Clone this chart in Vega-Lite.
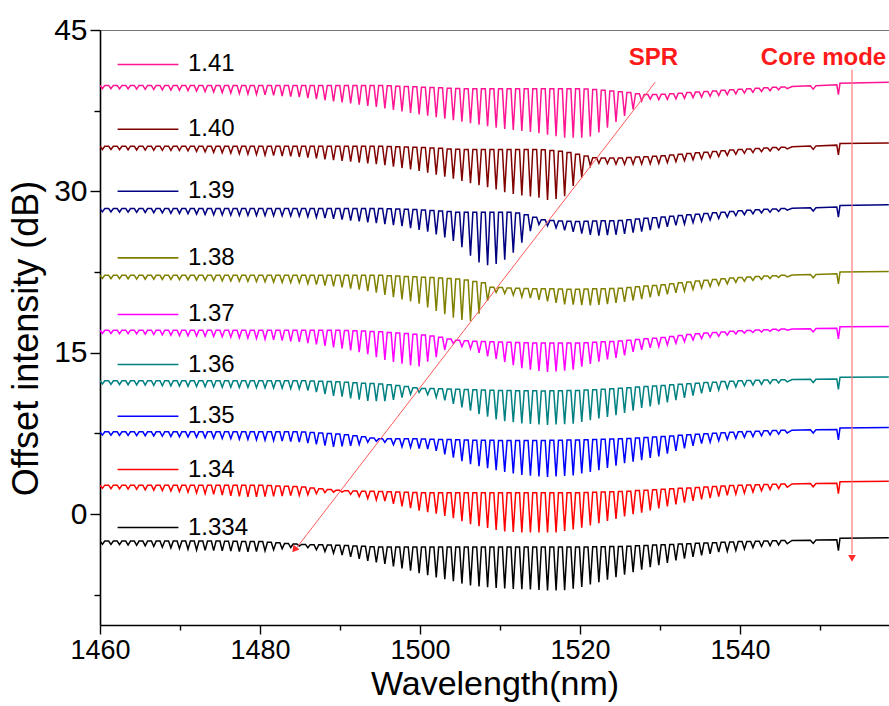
{
  "$schema": "https://vega.github.io/schema/vega-lite/v6.json",
  "width": 789,
  "height": 595,
  "autosize": {"type": "none"},
  "padding": {"left": 100, "top": 30, "right": 0, "bottom": 81},
  "background": "white",
  "config": {
    "view": {"stroke": null},
    "axis": {"labelFont": "Liberation Sans", "titleFont": "Liberation Sans", "labelColor": "black", "titleColor": "black", "domainColor": "black", "tickColor": "black", "domainWidth": 1.6, "tickWidth": 1.4, "grid": false, "titleFontWeight": "normal"}
  },
  "resolve": {"axis": {"x": "independent", "y": "independent"}},
  "datasets": {
    "spec": [
      {"x":1460.0,"p":39.85,"w":34.2,"n":28.4,"o":22.2,"m":17.1,"c":12.4,"b":7.65,"r":2.7,"k":-2.5},
      {"x":1460.3,"p":39.55,"w":33.9,"n":28.1,"o":21.9,"m":16.8,"c":12.1,"b":7.35,"r":2.4,"k":-2.8},
      {"x":1460.6,"p":39.85,"w":34.2,"n":28.4,"o":22.2,"m":17.1,"c":12.4,"b":7.65,"r":2.7,"k":-2.5},
      {"x":1461.08,"p":39.85,"w":34.2,"n":28.4,"o":22.2,"m":17.1,"c":12.4,"b":7.65,"r":2.7,"k":-2.5},
      {"x":1461.37,"p":39.54,"w":33.89,"n":28.09,"o":21.89,"m":16.79,"c":12.07,"b":7.34,"r":2.37,"k":-2.82},
      {"x":1461.67,"p":39.85,"w":34.2,"n":28.4,"o":22.2,"m":17.1,"c":12.4,"b":7.65,"r":2.7,"k":-2.5},
      {"x":1462.15,"p":39.85,"w":34.2,"n":28.4,"o":22.2,"m":17.1,"c":12.4,"b":7.65,"r":2.7,"k":-2.5},
      {"x":1462.44,"p":39.53,"w":33.88,"n":28.08,"o":21.88,"m":16.78,"c":12.05,"b":7.33,"r":2.35,"k":-2.84},
      {"x":1462.74,"p":39.85,"w":34.2,"n":28.4,"o":22.2,"m":17.1,"c":12.4,"b":7.65,"r":2.7,"k":-2.5},
      {"x":1463.22,"p":39.85,"w":34.2,"n":28.4,"o":22.2,"m":17.1,"c":12.4,"b":7.65,"r":2.7,"k":-2.5},
      {"x":1463.51,"p":39.52,"w":33.86,"n":28.07,"o":21.87,"m":16.77,"c":12.03,"b":7.32,"r":2.33,"k":-2.87},
      {"x":1463.81,"p":39.85,"w":34.2,"n":28.4,"o":22.2,"m":17.1,"c":12.4,"b":7.65,"r":2.7,"k":-2.5},
      {"x":1464.29,"p":39.85,"w":34.2,"n":28.4,"o":22.2,"m":17.1,"c":12.4,"b":7.65,"r":2.7,"k":-2.5},
      {"x":1464.58,"p":39.5,"w":33.85,"n":28.05,"o":21.85,"m":16.75,"c":12.01,"b":7.3,"r":2.31,"k":-2.89},
      {"x":1464.88,"p":39.85,"w":34.2,"n":28.4,"o":22.2,"m":17.1,"c":12.4,"b":7.65,"r":2.7,"k":-2.5},
      {"x":1465.36,"p":39.85,"w":34.2,"n":28.4,"o":22.2,"m":17.1,"c":12.4,"b":7.65,"r":2.7,"k":-2.5},
      {"x":1465.65,"p":39.49,"w":33.84,"n":28.04,"o":21.84,"m":16.73,"c":11.99,"b":7.29,"r":2.27,"k":-2.94},
      {"x":1465.95,"p":39.85,"w":34.2,"n":28.4,"o":22.2,"m":17.1,"c":12.4,"b":7.65,"r":2.7,"k":-2.5},
      {"x":1466.43,"p":39.85,"w":34.2,"n":28.4,"o":22.2,"m":17.1,"c":12.4,"b":7.65,"r":2.7,"k":-2.5},
      {"x":1466.72,"p":39.47,"w":33.83,"n":28.02,"o":21.83,"m":16.7,"c":11.97,"b":7.27,"r":2.23,"k":-3.0},
      {"x":1467.02,"p":39.85,"w":34.2,"n":28.4,"o":22.2,"m":17.1,"c":12.4,"b":7.65,"r":2.7,"k":-2.5},
      {"x":1467.5,"p":39.85,"w":34.2,"n":28.4,"o":22.2,"m":17.1,"c":12.4,"b":7.65,"r":2.7,"k":-2.5},
      {"x":1467.79,"p":39.44,"w":33.82,"n":28.0,"o":21.82,"m":16.67,"c":11.94,"b":7.24,"r":2.19,"k":-3.07},
      {"x":1468.09,"p":39.85,"w":34.2,"n":28.4,"o":22.2,"m":17.1,"c":12.4,"b":7.65,"r":2.7,"k":-2.5},
      {"x":1468.57,"p":39.85,"w":34.2,"n":28.4,"o":22.2,"m":17.1,"c":12.4,"b":7.65,"r":2.7,"k":-2.5},
      {"x":1468.86,"p":39.42,"w":33.81,"n":27.97,"o":21.81,"m":16.63,"c":11.92,"b":7.22,"r":2.15,"k":-3.13},
      {"x":1469.16,"p":39.85,"w":34.2,"n":28.4,"o":22.2,"m":17.1,"c":12.4,"b":7.65,"r":2.7,"k":-2.5},
      {"x":1469.64,"p":39.85,"w":34.2,"n":28.4,"o":22.2,"m":17.1,"c":12.4,"b":7.65,"r":2.7,"k":-2.5},
      {"x":1469.93,"p":39.4,"w":33.8,"n":27.95,"o":21.8,"m":16.6,"c":11.9,"b":7.2,"r":2.1,"k":-3.2},
      {"x":1470.23,"p":39.85,"w":34.2,"n":28.4,"o":22.2,"m":17.1,"c":12.4,"b":7.65,"r":2.7,"k":-2.5},
      {"x":1470.71,"p":39.85,"w":34.2,"n":28.4,"o":22.2,"m":17.1,"c":12.4,"b":7.65,"r":2.7,"k":-2.5},
      {"x":1471.0,"p":39.36,"w":33.76,"n":27.92,"o":21.78,"m":16.58,"c":11.88,"b":7.17,"r":2.04,"k":-3.26},
      {"x":1471.3,"p":39.85,"w":34.2,"n":28.4,"o":22.2,"m":17.1,"c":12.4,"b":7.65,"r":2.7,"k":-2.5},
      {"x":1471.78,"p":39.85,"w":34.2,"n":28.4,"o":22.2,"m":17.1,"c":12.4,"b":7.65,"r":2.7,"k":-2.5},
      {"x":1472.07,"p":39.32,"w":33.72,"n":27.89,"o":21.76,"m":16.56,"c":11.86,"b":7.14,"r":1.98,"k":-3.33},
      {"x":1472.37,"p":39.85,"w":34.2,"n":28.4,"o":22.2,"m":17.1,"c":12.4,"b":7.65,"r":2.7,"k":-2.5},
      {"x":1472.85,"p":39.85,"w":34.2,"n":28.4,"o":22.2,"m":17.1,"c":12.4,"b":7.65,"r":2.7,"k":-2.5},
      {"x":1473.14,"p":39.27,"w":33.67,"n":27.86,"o":21.74,"m":16.54,"c":11.84,"b":7.11,"r":1.91,"k":-3.36},
      {"x":1473.44,"p":39.85,"w":34.2,"n":28.4,"o":22.2,"m":17.1,"c":12.4,"b":7.65,"r":2.7,"k":-2.5},
      {"x":1473.92,"p":39.85,"w":34.2,"n":28.4,"o":22.2,"m":17.1,"c":12.4,"b":7.65,"r":2.7,"k":-2.5},
      {"x":1474.21,"p":39.23,"w":33.63,"n":27.82,"o":21.72,"m":16.52,"c":11.82,"b":7.07,"r":1.85,"k":-3.39},
      {"x":1474.51,"p":39.85,"w":34.2,"n":28.4,"o":22.2,"m":17.1,"c":12.4,"b":7.65,"r":2.7,"k":-2.5},
      {"x":1474.99,"p":39.85,"w":34.2,"n":28.4,"o":22.2,"m":17.1,"c":12.4,"b":7.65,"r":2.7,"k":-2.5},
      {"x":1475.28,"p":39.19,"w":33.59,"n":27.8,"o":21.69,"m":16.49,"c":11.8,"b":7.04,"r":1.78,"k":-3.41},
      {"x":1475.58,"p":39.85,"w":34.2,"n":28.4,"o":22.2,"m":17.1,"c":12.4,"b":7.65,"r":2.7,"k":-2.51},
      {"x":1476.06,"p":39.85,"w":34.2,"n":28.4,"o":22.2,"m":17.1,"c":12.4,"b":7.65,"r":2.7,"k":-2.51},
      {"x":1476.35,"p":39.15,"w":33.55,"n":27.79,"o":21.67,"m":16.45,"c":11.79,"b":7.01,"r":1.71,"k":-3.44},
      {"x":1476.65,"p":39.85,"w":34.2,"n":28.4,"o":22.2,"m":17.1,"c":12.4,"b":7.65,"r":2.7,"k":-2.52},
      {"x":1477.13,"p":39.85,"w":34.2,"n":28.4,"o":22.2,"m":17.1,"c":12.4,"b":7.65,"r":2.7,"k":-2.52},
      {"x":1477.42,"p":39.1,"w":33.5,"n":27.77,"o":21.65,"m":16.4,"c":11.78,"b":6.97,"r":1.65,"k":-3.47},
      {"x":1477.72,"p":39.85,"w":34.2,"n":28.4,"o":22.2,"m":17.1,"c":12.4,"b":7.65,"r":2.7,"k":-2.53},
      {"x":1478.2,"p":39.85,"w":34.2,"n":28.4,"o":22.2,"m":17.1,"c":12.4,"b":7.65,"r":2.7,"k":-2.53},
      {"x":1478.49,"p":39.06,"w":33.46,"n":27.76,"o":21.63,"m":16.36,"c":11.77,"b":6.94,"r":1.6,"k":-3.5},
      {"x":1478.79,"p":39.85,"w":34.2,"n":28.4,"o":22.2,"m":17.1,"c":12.4,"b":7.65,"r":2.7,"k":-2.54},
      {"x":1479.27,"p":39.85,"w":34.2,"n":28.4,"o":22.2,"m":17.1,"c":12.4,"b":7.65,"r":2.7,"k":-2.54},
      {"x":1479.56,"p":39.02,"w":33.42,"n":27.75,"o":21.61,"m":16.32,"c":11.75,"b":6.91,"r":1.62,"k":-3.47},
      {"x":1479.86,"p":39.85,"w":34.2,"n":28.4,"o":22.2,"m":17.1,"c":12.4,"b":7.65,"r":2.7,"k":-2.55},
      {"x":1480.34,"p":39.85,"w":34.2,"n":28.4,"o":22.2,"m":17.1,"c":12.4,"b":7.65,"r":2.7,"k":-2.55},
      {"x":1480.63,"p":38.97,"w":33.37,"n":27.74,"o":21.59,"m":16.26,"c":11.74,"b":6.87,"r":1.64,"k":-3.41},
      {"x":1480.93,"p":39.85,"w":34.2,"n":28.4,"o":22.2,"m":17.1,"c":12.4,"b":7.65,"r":2.67,"k":-2.61},
      {"x":1481.41,"p":39.85,"w":34.2,"n":28.4,"o":22.2,"m":17.1,"c":12.4,"b":7.65,"r":2.67,"k":-2.61},
      {"x":1481.7,"p":38.92,"w":33.33,"n":27.73,"o":21.57,"m":16.2,"c":11.72,"b":6.83,"r":1.66,"k":-3.32},
      {"x":1482.0,"p":39.85,"w":34.2,"n":28.4,"o":22.2,"m":17.1,"c":12.4,"b":7.65,"r":2.63,"k":-2.66},
      {"x":1482.48,"p":39.85,"w":34.2,"n":28.4,"o":22.2,"m":17.1,"c":12.4,"b":7.65,"r":2.63,"k":-2.66},
      {"x":1482.77,"p":38.86,"w":33.29,"n":27.72,"o":21.54,"m":16.13,"c":11.7,"b":6.79,"r":1.69,"k":-3.22},
      {"x":1483.07,"p":39.85,"w":34.2,"n":28.4,"o":22.2,"m":17.1,"c":12.4,"b":7.65,"r":2.6,"k":-2.72},
      {"x":1483.55,"p":39.85,"w":34.2,"n":28.4,"o":22.2,"m":17.1,"c":12.4,"b":7.65,"r":2.6,"k":-2.72},
      {"x":1483.84,"p":38.81,"w":33.25,"n":27.71,"o":21.52,"m":16.07,"c":11.67,"b":6.75,"r":1.72,"k":-3.1},
      {"x":1484.14,"p":39.85,"w":34.2,"n":28.4,"o":22.2,"m":17.1,"c":12.4,"b":7.65,"r":2.57,"k":-2.77},
      {"x":1484.62,"p":39.85,"w":34.2,"n":28.4,"o":22.2,"m":17.1,"c":12.4,"b":7.65,"r":2.57,"k":-2.77},
      {"x":1484.91,"p":38.76,"w":33.2,"n":27.7,"o":21.5,"m":16.01,"c":11.65,"b":6.7,"r":1.75,"k":-2.96},
      {"x":1485.21,"p":39.85,"w":34.2,"n":28.4,"o":22.2,"m":17.1,"c":12.39,"b":7.63,"r":2.52,"k":-2.81},
      {"x":1485.69,"p":39.85,"w":34.2,"n":28.4,"o":22.2,"m":17.1,"c":12.39,"b":7.63,"r":2.52,"k":-2.81},
      {"x":1485.98,"p":38.66,"w":33.13,"n":27.64,"o":21.42,"m":15.9,"c":11.5,"b":6.61,"r":1.8,"k":-3.12},
      {"x":1486.28,"p":39.85,"w":34.2,"n":28.4,"o":22.2,"m":17.1,"c":12.37,"b":7.59,"r":2.44,"k":-2.83},
      {"x":1486.76,"p":39.85,"w":34.2,"n":28.4,"o":22.2,"m":17.1,"c":12.37,"b":7.59,"r":2.44,"k":-2.83},
      {"x":1487.05,"p":38.57,"w":33.06,"n":27.58,"o":21.34,"m":15.77,"c":11.34,"b":6.49,"r":1.9,"k":-3.31},
      {"x":1487.35,"p":39.85,"w":34.2,"n":28.4,"o":22.2,"m":17.1,"c":12.35,"b":7.55,"r":2.37,"k":-2.85},
      {"x":1487.83,"p":39.85,"w":34.2,"n":28.4,"o":22.2,"m":17.1,"c":12.35,"b":7.55,"r":2.37,"k":-2.85},
      {"x":1488.12,"p":38.47,"w":32.98,"n":27.51,"o":21.25,"m":15.64,"c":11.17,"b":6.38,"r":2.0,"k":-3.47},
      {"x":1488.42,"p":39.85,"w":34.2,"n":28.4,"o":22.2,"m":17.1,"c":12.33,"b":7.5,"r":2.29,"k":-2.87},
      {"x":1488.9,"p":39.85,"w":34.2,"n":28.4,"o":22.2,"m":17.1,"c":12.33,"b":7.5,"r":2.29,"k":-2.87},
      {"x":1489.19,"p":38.37,"w":32.91,"n":27.45,"o":21.17,"m":15.49,"c":11.0,"b":6.25,"r":2.05,"k":-3.62},
      {"x":1489.49,"p":39.85,"w":34.2,"n":28.4,"o":22.2,"m":17.1,"c":12.31,"b":7.46,"r":2.22,"k":-2.89},
      {"x":1489.97,"p":39.85,"w":34.2,"n":28.4,"o":22.2,"m":17.1,"c":12.31,"b":7.46,"r":2.22,"k":-2.89},
      {"x":1490.26,"p":38.27,"w":32.83,"n":27.38,"o":21.08,"m":15.38,"c":10.93,"b":6.31,"r":2.05,"k":-3.79},
      {"x":1490.56,"p":39.85,"w":34.2,"n":28.4,"o":22.2,"m":17.08,"c":12.27,"b":7.38,"r":2.18,"k":-2.92},
      {"x":1491.04,"p":39.85,"w":34.2,"n":28.4,"o":22.2,"m":17.08,"c":12.27,"b":7.38,"r":2.18,"k":-2.92},
      {"x":1491.33,"p":38.17,"w":32.76,"n":27.29,"o":20.97,"m":15.23,"c":10.76,"b":6.36,"r":1.84,"k":-3.97},
      {"x":1491.63,"p":39.85,"w":34.2,"n":28.4,"o":22.2,"m":17.05,"c":12.22,"b":7.28,"r":2.16,"k":-2.96},
      {"x":1492.11,"p":39.85,"w":34.2,"n":28.4,"o":22.2,"m":17.05,"c":12.22,"b":7.28,"r":2.16,"k":-2.96},
      {"x":1492.4,"p":38.06,"w":32.68,"n":27.21,"o":20.86,"m":15.05,"c":10.64,"b":6.48,"r":1.64,"k":-4.15},
      {"x":1492.7,"p":39.85,"w":34.2,"n":28.4,"o":22.2,"m":17.02,"c":12.18,"b":7.19,"r":2.14,"k":-2.99},
      {"x":1493.18,"p":39.85,"w":34.2,"n":28.4,"o":22.2,"m":17.02,"c":12.18,"b":7.19,"r":2.14,"k":-2.99},
      {"x":1493.47,"p":37.95,"w":32.61,"n":27.12,"o":20.74,"m":14.87,"c":10.52,"b":6.69,"r":1.46,"k":-4.33},
      {"x":1493.77,"p":39.85,"w":34.2,"n":28.4,"o":22.2,"m":16.98,"c":12.14,"b":7.09,"r":2.12,"k":-3.02},
      {"x":1494.25,"p":39.85,"w":34.2,"n":28.4,"o":22.2,"m":16.98,"c":12.14,"b":7.09,"r":2.12,"k":-3.02},
      {"x":1494.54,"p":37.85,"w":32.53,"n":27.04,"o":20.6,"m":14.6,"c":10.5,"b":6.77,"r":1.33,"k":-4.49},
      {"x":1494.84,"p":39.85,"w":34.2,"n":28.4,"o":22.2,"m":16.95,"c":12.1,"b":7.0,"r":2.1,"k":-3.05},
      {"x":1495.32,"p":39.85,"w":34.2,"n":28.4,"o":22.2,"m":16.95,"c":12.1,"b":7.0,"r":2.1,"k":-3.05},
      {"x":1495.61,"p":37.72,"w":32.43,"n":26.95,"o":20.38,"m":14.34,"c":10.5,"b":6.68,"r":1.22,"k":-4.63},
      {"x":1495.91,"p":39.82,"w":34.18,"n":28.38,"o":22.17,"m":16.89,"c":12.02,"b":7.0,"r":2.08,"k":-3.05},
      {"x":1496.39,"p":39.82,"w":34.18,"n":28.38,"o":22.17,"m":16.89,"c":12.02,"b":7.0,"r":2.08,"k":-3.05},
      {"x":1496.68,"p":37.58,"w":32.3,"n":26.87,"o":20.18,"m":14.15,"c":10.63,"b":6.45,"r":0.97,"k":-4.86},
      {"x":1496.98,"p":39.78,"w":34.16,"n":28.36,"o":22.13,"m":16.84,"c":11.95,"b":7.0,"r":2.06,"k":-3.05},
      {"x":1497.46,"p":39.78,"w":34.16,"n":28.36,"o":22.13,"m":16.84,"c":11.95,"b":7.0,"r":2.06,"k":-3.05},
      {"x":1497.75,"p":37.44,"w":32.17,"n":26.76,"o":19.97,"m":13.98,"c":10.83,"b":6.26,"r":0.73,"k":-5.05},
      {"x":1498.05,"p":39.75,"w":34.13,"n":28.33,"o":22.1,"m":16.79,"c":11.87,"b":7.0,"r":2.03,"k":-3.05},
      {"x":1498.53,"p":39.75,"w":34.13,"n":28.33,"o":22.1,"m":16.79,"c":11.87,"b":7.0,"r":2.03,"k":-3.05},
      {"x":1498.82,"p":37.3,"w":32.04,"n":26.59,"o":19.77,"m":13.83,"c":11.14,"b":6.2,"r":0.55,"k":-5.25},
      {"x":1499.12,"p":39.72,"w":34.11,"n":28.31,"o":22.07,"m":16.73,"c":11.76,"b":7.0,"r":2.01,"k":-3.05},
      {"x":1499.6,"p":39.72,"w":34.11,"n":28.31,"o":22.07,"m":16.73,"c":11.76,"b":7.0,"r":2.01,"k":-3.05},
      {"x":1499.89,"p":37.16,"w":31.91,"n":26.42,"o":19.57,"m":13.72,"c":11.32,"b":6.1,"r":0.32,"k":-5.48},
      {"x":1500.19,"p":39.69,"w":34.08,"n":28.28,"o":22.03,"m":16.66,"c":11.69,"b":6.99,"r":2.0,"k":-3.05},
      {"x":1500.67,"p":39.69,"w":34.08,"n":28.28,"o":22.03,"m":16.66,"c":11.69,"b":6.99,"r":2.0,"k":-3.05},
      {"x":1500.96,"p":37.03,"w":31.73,"n":26.26,"o":19.21,"m":14.17,"c":11.1,"b":6.04,"r":0.19,"k":-5.68},
      {"x":1501.26,"p":39.66,"w":34.04,"n":28.22,"o":21.99,"m":16.55,"c":11.67,"b":6.97,"r":2.0,"k":-3.05},
      {"x":1501.74,"p":39.66,"w":34.04,"n":28.22,"o":21.99,"m":16.55,"c":11.67,"b":6.97,"r":2.0,"k":-3.05},
      {"x":1502.03,"p":36.89,"w":31.56,"n":26.0,"o":18.89,"m":14.6,"c":10.85,"b":5.89,"r":0.04,"k":-5.87},
      {"x":1502.33,"p":39.63,"w":34.0,"n":28.17,"o":21.95,"m":16.44,"c":11.65,"b":6.95,"r":2.0,"k":-3.05},
      {"x":1502.81,"p":39.63,"w":34.0,"n":28.17,"o":21.95,"m":16.44,"c":11.65,"b":6.95,"r":2.0,"k":-3.05},
      {"x":1503.1,"p":36.75,"w":31.37,"n":25.72,"o":18.58,"m":15.27,"c":10.58,"b":5.56,"r":-0.17,"k":-6.05},
      {"x":1503.4,"p":39.59,"w":33.95,"n":28.12,"o":21.9,"m":16.27,"c":11.63,"b":6.93,"r":2.0,"k":-3.05},
      {"x":1503.88,"p":39.59,"w":33.95,"n":28.12,"o":21.9,"m":16.27,"c":11.63,"b":6.93,"r":2.0,"k":-3.05},
      {"x":1504.17,"p":36.61,"w":31.18,"n":25.4,"o":18.27,"m":15.85,"c":10.25,"b":5.25,"r":-0.38,"k":-6.24},
      {"x":1504.47,"p":39.56,"w":33.91,"n":28.06,"o":21.86,"m":16.16,"c":11.61,"b":6.91,"r":2.0,"k":-3.05},
      {"x":1504.95,"p":39.56,"w":33.91,"n":28.06,"o":21.86,"m":16.16,"c":11.61,"b":6.91,"r":2.0,"k":-3.05},
      {"x":1505.24,"p":36.47,"w":30.96,"n":24.81,"o":18.05,"m":15.56,"c":9.93,"b":4.93,"r":-0.66,"k":-6.45},
      {"x":1505.54,"p":39.55,"w":33.9,"n":28.05,"o":21.76,"m":16.11,"c":11.58,"b":6.89,"r":2.0,"k":-3.05},
      {"x":1506.02,"p":39.55,"w":33.9,"n":28.05,"o":21.76,"m":16.11,"c":11.58,"b":6.89,"r":2.0,"k":-3.05},
      {"x":1506.31,"p":36.33,"w":30.77,"n":24.03,"o":17.96,"m":15.38,"c":9.62,"b":4.65,"r":-0.93,"k":-6.63},
      {"x":1506.61,"p":39.55,"w":33.9,"n":28.05,"o":21.63,"m":16.08,"c":11.56,"b":6.88,"r":2.0,"k":-3.05},
      {"x":1507.09,"p":39.55,"w":33.9,"n":28.05,"o":21.63,"m":16.08,"c":11.56,"b":6.88,"r":2.0,"k":-3.05},
      {"x":1507.38,"p":36.19,"w":30.58,"n":23.4,"o":18.64,"m":15.0,"c":9.3,"b":4.47,"r":-1.11,"k":-6.71},
      {"x":1507.68,"p":39.55,"w":33.9,"n":28.05,"o":21.51,"m":16.05,"c":11.54,"b":6.87,"r":2.0,"k":-3.05},
      {"x":1508.16,"p":39.55,"w":33.9,"n":28.05,"o":21.51,"m":16.05,"c":11.54,"b":6.87,"r":2.0,"k":-3.05},
      {"x":1508.45,"p":36.05,"w":30.38,"n":23.15,"o":19.83,"m":14.66,"c":9.06,"b":4.27,"r":-1.29,"k":-6.79},
      {"x":1508.75,"p":39.55,"w":33.9,"n":28.05,"o":21.1,"m":16.03,"c":11.52,"b":6.86,"r":2.0,"k":-3.05},
      {"x":1509.23,"p":39.55,"w":33.9,"n":28.05,"o":21.1,"m":16.03,"c":11.52,"b":6.86,"r":2.0,"k":-3.05},
      {"x":1509.52,"p":35.91,"w":30.19,"n":23.25,"o":20.6,"m":14.44,"c":8.81,"b":4.08,"r":-1.47,"k":-6.86},
      {"x":1509.82,"p":39.55,"w":33.9,"n":28.05,"o":21.07,"m":16.0,"c":11.5,"b":6.85,"r":2.0,"k":-3.05},
      {"x":1510.3,"p":39.55,"w":33.9,"n":28.05,"o":21.07,"m":16.0,"c":11.5,"b":6.85,"r":2.0,"k":-3.05},
      {"x":1510.59,"p":35.8,"w":29.92,"n":23.65,"o":20.51,"m":14.14,"c":8.64,"b":3.92,"r":-1.6,"k":-6.91},
      {"x":1510.89,"p":39.55,"w":33.9,"n":28.05,"o":21.03,"m":15.98,"c":11.49,"b":6.85,"r":2.0,"k":-3.05},
      {"x":1511.37,"p":39.55,"w":33.9,"n":28.05,"o":21.03,"m":15.98,"c":11.49,"b":6.85,"r":2.0,"k":-3.05},
      {"x":1511.66,"p":35.7,"w":29.77,"n":24.3,"o":20.35,"m":13.86,"c":8.54,"b":3.78,"r":-1.65,"k":-6.94},
      {"x":1511.96,"p":39.55,"w":33.9,"n":28.0,"o":21.0,"m":15.96,"c":11.48,"b":6.85,"r":2.0,"k":-3.05},
      {"x":1512.44,"p":39.55,"w":33.9,"n":28.0,"o":21.0,"m":15.96,"c":11.48,"b":6.85,"r":2.0,"k":-3.05},
      {"x":1512.73,"p":35.61,"w":29.63,"n":25.23,"o":20.2,"m":13.57,"c":8.43,"b":3.64,"r":-1.69,"k":-6.97},
      {"x":1513.03,"p":39.55,"w":33.9,"n":27.83,"o":20.98,"m":15.94,"c":11.47,"b":6.85,"r":2.0,"k":-3.05},
      {"x":1513.51,"p":39.55,"w":33.9,"n":27.83,"o":20.98,"m":15.94,"c":11.47,"b":6.85,"r":2.0,"k":-3.05},
      {"x":1513.8,"p":35.53,"w":29.52,"n":26.3,"o":20.09,"m":13.43,"c":8.38,"b":3.57,"r":-1.7,"k":-7.0},
      {"x":1514.1,"p":39.55,"w":33.9,"n":27.6,"o":20.96,"m":15.92,"c":11.46,"b":6.85,"r":2.0,"k":-3.05},
      {"x":1514.58,"p":39.55,"w":33.9,"n":27.6,"o":20.96,"m":15.92,"c":11.46,"b":6.85,"r":2.0,"k":-3.05},
      {"x":1514.87,"p":35.41,"w":29.41,"n":26.93,"o":19.92,"m":13.31,"c":8.33,"b":3.51,"r":-1.7,"k":-7.04},
      {"x":1515.17,"p":39.55,"w":33.87,"n":27.37,"o":20.95,"m":15.9,"c":11.45,"b":6.85,"r":2.0,"k":-3.05},
      {"x":1515.65,"p":39.55,"w":33.87,"n":27.37,"o":20.95,"m":15.9,"c":11.45,"b":6.85,"r":2.0,"k":-3.05},
      {"x":1515.94,"p":35.27,"w":29.21,"n":26.81,"o":19.77,"m":13.21,"c":8.3,"b":3.45,"r":-1.7,"k":-7.08},
      {"x":1516.24,"p":39.55,"w":33.8,"n":27.29,"o":20.94,"m":15.9,"c":11.46,"b":6.86,"r":2.0,"k":-3.05},
      {"x":1516.72,"p":39.55,"w":33.8,"n":27.29,"o":20.94,"m":15.9,"c":11.46,"b":6.86,"r":2.0,"k":-3.05},
      {"x":1517.01,"p":35.13,"w":29.3,"n":26.6,"o":19.63,"m":13.27,"c":8.33,"b":3.5,"r":-1.7,"k":-7.1},
      {"x":1517.31,"p":39.55,"w":33.73,"n":27.24,"o":20.93,"m":15.9,"c":11.47,"b":6.87,"r":2.0,"k":-3.05},
      {"x":1517.79,"p":39.55,"w":33.73,"n":27.24,"o":20.93,"m":15.9,"c":11.47,"b":6.87,"r":2.0,"k":-3.05},
      {"x":1518.08,"p":35.0,"w":29.55,"n":26.38,"o":19.5,"m":13.33,"c":8.36,"b":3.55,"r":-1.57,"k":-7.07},
      {"x":1518.38,"p":39.55,"w":33.61,"n":27.22,"o":20.91,"m":15.9,"c":11.49,"b":6.89,"r":2.0,"k":-3.05},
      {"x":1518.86,"p":39.55,"w":33.61,"n":27.22,"o":20.91,"m":15.9,"c":11.49,"b":6.89,"r":2.0,"k":-3.05},
      {"x":1519.15,"p":35.0,"w":30.5,"n":26.23,"o":19.47,"m":13.42,"c":8.41,"b":3.61,"r":-1.43,"k":-6.93},
      {"x":1519.45,"p":39.55,"w":33.45,"n":27.2,"o":20.9,"m":15.9,"c":11.5,"b":6.9,"r":2.0,"k":-3.05},
      {"x":1519.93,"p":39.55,"w":33.45,"n":27.2,"o":20.9,"m":15.9,"c":11.5,"b":6.9,"r":2.0,"k":-3.05},
      {"x":1520.22,"p":35.0,"w":31.3,"n":26.08,"o":19.42,"m":13.72,"c":8.58,"b":3.78,"r":-1.26,"k":-6.76},
      {"x":1520.52,"p":39.51,"w":33.29,"n":27.22,"o":20.92,"m":15.93,"c":11.53,"b":6.92,"r":2.02,"k":-3.04},
      {"x":1521.0,"p":39.51,"w":33.29,"n":27.22,"o":20.92,"m":15.93,"c":11.53,"b":6.92,"r":2.02,"k":-3.04},
      {"x":1521.29,"p":35.1,"w":32.4,"n":25.97,"o":19.4,"m":13.97,"c":8.73,"b":3.93,"r":-1.04,"k":-6.54},
      {"x":1521.59,"p":39.46,"w":33.12,"n":27.24,"o":20.94,"m":15.97,"c":11.57,"b":6.94,"r":2.04,"k":-3.03},
      {"x":1522.07,"p":39.46,"w":33.12,"n":27.24,"o":20.94,"m":15.97,"c":11.57,"b":6.94,"r":2.04,"k":-3.03},
      {"x":1522.36,"p":35.47,"w":32.6,"n":25.9,"o":19.45,"m":14.18,"c":8.89,"b":4.08,"r":-0.83,"k":-6.33},
      {"x":1522.66,"p":39.41,"w":33.1,"n":27.26,"o":20.96,"m":16.02,"c":11.62,"b":6.96,"r":2.06,"k":-3.02},
      {"x":1523.14,"p":39.41,"w":33.1,"n":27.26,"o":20.96,"m":16.02,"c":11.62,"b":6.96,"r":2.06,"k":-3.02},
      {"x":1523.43,"p":35.92,"w":32.58,"n":25.93,"o":19.53,"m":14.39,"c":9.04,"b":4.29,"r":-0.64,"k":-6.1},
      {"x":1523.73,"p":39.34,"w":33.1,"n":27.28,"o":20.98,"m":16.06,"c":11.66,"b":6.98,"r":2.08,"k":-3.01},
      {"x":1524.21,"p":39.34,"w":33.1,"n":27.28,"o":20.98,"m":16.06,"c":11.66,"b":6.98,"r":2.08,"k":-3.01},
      {"x":1524.5,"p":36.45,"w":32.53,"n":25.97,"o":19.63,"m":14.52,"c":9.2,"b":4.5,"r":-0.44,"k":-5.86},
      {"x":1524.8,"p":39.27,"w":33.1,"n":27.3,"o":21.0,"m":16.1,"c":11.7,"b":7.0,"r":2.1,"k":-3.0},
      {"x":1525.28,"p":39.27,"w":33.1,"n":27.3,"o":21.0,"m":16.1,"c":11.7,"b":7.0,"r":2.1,"k":-3.0},
      {"x":1525.57,"p":37.02,"w":32.51,"n":26.06,"o":19.74,"m":14.77,"c":9.4,"b":4.73,"r":-0.22,"k":-5.63},
      {"x":1525.87,"p":39.19,"w":33.14,"n":27.37,"o":21.07,"m":16.17,"c":11.76,"b":7.04,"r":2.14,"k":-2.97},
      {"x":1526.35,"p":39.19,"w":33.14,"n":27.37,"o":21.07,"m":16.17,"c":11.76,"b":7.04,"r":2.14,"k":-2.97},
      {"x":1526.64,"p":37.62,"w":32.53,"n":26.16,"o":19.86,"m":15.08,"c":9.63,"b":4.87,"r":0.0,"k":-5.39},
      {"x":1526.94,"p":39.08,"w":33.19,"n":27.43,"o":21.13,"m":16.23,"c":11.81,"b":7.09,"r":2.19,"k":-2.94},
      {"x":1527.42,"p":39.08,"w":33.19,"n":27.43,"o":21.13,"m":16.23,"c":11.81,"b":7.09,"r":2.19,"k":-2.94},
      {"x":1527.71,"p":38.4,"w":32.54,"n":26.26,"o":19.99,"m":15.28,"c":9.87,"b":5.03,"r":0.14,"k":-5.16},
      {"x":1528.01,"p":39.0,"w":33.23,"n":27.5,"o":21.2,"m":16.3,"c":11.87,"b":7.13,"r":2.23,"k":-2.9},
      {"x":1528.49,"p":39.0,"w":33.23,"n":27.5,"o":21.2,"m":16.3,"c":11.87,"b":7.13,"r":2.23,"k":-2.9},
      {"x":1528.78,"p":38.57,"w":32.56,"n":26.4,"o":20.15,"m":15.46,"c":10.01,"b":5.22,"r":0.35,"k":-4.92},
      {"x":1529.08,"p":39.0,"w":33.27,"n":27.56,"o":21.26,"m":16.36,"c":11.92,"b":7.17,"r":2.27,"k":-2.87},
      {"x":1529.56,"p":39.0,"w":33.27,"n":27.56,"o":21.26,"m":16.36,"c":11.92,"b":7.17,"r":2.27,"k":-2.87},
      {"x":1529.85,"p":38.52,"w":32.6,"n":26.57,"o":20.28,"m":15.57,"c":10.17,"b":5.37,"r":0.53,"k":-4.73},
      {"x":1530.15,"p":39.02,"w":33.32,"n":27.62,"o":21.33,"m":16.43,"c":11.97,"b":7.22,"r":2.32,"k":-2.84},
      {"x":1530.63,"p":39.02,"w":33.32,"n":27.62,"o":21.33,"m":16.43,"c":11.97,"b":7.22,"r":2.32,"k":-2.84},
      {"x":1530.92,"p":38.55,"w":32.67,"n":26.71,"o":20.43,"m":15.73,"c":10.38,"b":5.62,"r":0.72,"k":-4.52},
      {"x":1531.22,"p":39.07,"w":33.39,"n":27.69,"o":21.42,"m":16.52,"c":12.02,"b":7.27,"r":2.36,"k":-2.81},
      {"x":1531.7,"p":39.07,"w":33.39,"n":27.69,"o":21.42,"m":16.52,"c":12.02,"b":7.27,"r":2.36,"k":-2.81},
      {"x":1531.99,"p":38.6,"w":32.76,"n":26.84,"o":20.58,"m":15.88,"c":10.6,"b":5.88,"r":0.91,"k":-4.3},
      {"x":1532.29,"p":39.13,"w":33.45,"n":27.75,"o":21.5,"m":16.6,"c":12.08,"b":7.33,"r":2.4,"k":-2.78},
      {"x":1532.77,"p":39.13,"w":33.45,"n":27.75,"o":21.5,"m":16.6,"c":12.08,"b":7.33,"r":2.4,"k":-2.78},
      {"x":1533.06,"p":38.65,"w":32.85,"n":26.97,"o":20.73,"m":16.03,"c":10.81,"b":6.12,"r":1.08,"k":-4.12},
      {"x":1533.36,"p":39.18,"w":33.52,"n":27.82,"o":21.59,"m":16.69,"c":12.13,"b":7.38,"r":2.44,"k":-2.74},
      {"x":1533.84,"p":39.18,"w":33.52,"n":27.82,"o":21.59,"m":16.69,"c":12.13,"b":7.38,"r":2.44,"k":-2.74},
      {"x":1534.13,"p":38.71,"w":32.93,"n":27.1,"o":20.88,"m":16.18,"c":11.03,"b":6.36,"r":1.23,"k":-3.97},
      {"x":1534.43,"p":39.23,"w":33.58,"n":27.88,"o":21.67,"m":16.77,"c":12.18,"b":7.43,"r":2.49,"k":-2.71},
      {"x":1534.91,"p":39.23,"w":33.58,"n":27.88,"o":21.67,"m":16.77,"c":12.18,"b":7.43,"r":2.49,"k":-2.71},
      {"x":1535.2,"p":38.76,"w":33.02,"n":27.22,"o":21.02,"m":16.32,"c":11.23,"b":6.57,"r":1.38,"k":-3.83},
      {"x":1535.5,"p":39.29,"w":33.64,"n":27.94,"o":21.74,"m":16.84,"c":12.23,"b":7.48,"r":2.53,"k":-2.68},
      {"x":1535.98,"p":39.29,"w":33.64,"n":27.94,"o":21.74,"m":16.84,"c":12.23,"b":7.48,"r":2.53,"k":-2.68},
      {"x":1536.27,"p":38.84,"w":33.13,"n":27.35,"o":21.15,"m":16.43,"c":11.38,"b":6.7,"r":1.5,"k":-3.68},
      {"x":1536.57,"p":39.34,"w":33.71,"n":28.01,"o":21.81,"m":16.89,"c":12.27,"b":7.52,"r":2.57,"k":-2.65},
      {"x":1537.05,"p":39.34,"w":33.71,"n":28.01,"o":21.81,"m":16.89,"c":12.27,"b":7.52,"r":2.57,"k":-2.65},
      {"x":1537.34,"p":38.91,"w":33.23,"n":27.48,"o":21.28,"m":16.53,"c":11.53,"b":6.83,"r":1.63,"k":-3.52},
      {"x":1537.64,"p":39.39,"w":33.77,"n":28.07,"o":21.87,"m":16.94,"c":12.32,"b":7.57,"r":2.62,"k":-2.61},
      {"x":1538.12,"p":39.39,"w":33.77,"n":28.07,"o":21.87,"m":16.94,"c":12.32,"b":7.57,"r":2.62,"k":-2.61},
      {"x":1538.41,"p":38.99,"w":33.34,"n":27.61,"o":21.41,"m":16.64,"c":11.68,"b":6.94,"r":1.76,"k":-3.44},
      {"x":1538.71,"p":39.45,"w":33.84,"n":28.14,"o":21.94,"m":17.0,"c":12.36,"b":7.61,"r":2.66,"k":-2.58},
      {"x":1539.19,"p":39.45,"w":33.84,"n":28.14,"o":21.94,"m":17.0,"c":12.36,"b":7.61,"r":2.66,"k":-2.58},
      {"x":1539.48,"p":39.06,"w":33.45,"n":27.74,"o":21.54,"m":16.75,"c":11.83,"b":7.05,"r":1.86,"k":-3.36},
      {"x":1539.78,"p":39.5,"w":33.9,"n":28.2,"o":22.0,"m":17.05,"c":12.4,"b":7.65,"r":2.7,"k":-2.55},
      {"x":1540.26,"p":39.5,"w":33.9,"n":28.2,"o":22.0,"m":17.05,"c":12.4,"b":7.65,"r":2.7,"k":-2.55},
      {"x":1540.55,"p":39.14,"w":33.54,"n":27.84,"o":21.64,"m":16.83,"c":11.93,"b":7.14,"r":1.96,"k":-3.23},
      {"x":1540.85,"p":39.54,"w":33.94,"n":28.24,"o":22.04,"m":17.08,"c":12.42,"b":7.68,"r":2.72,"k":-2.53},
      {"x":1541.33,"p":39.54,"w":33.94,"n":28.24,"o":22.04,"m":17.08,"c":12.42,"b":7.68,"r":2.72,"k":-2.53},
      {"x":1541.62,"p":39.21,"w":33.61,"n":27.91,"o":21.73,"m":16.88,"c":12.0,"b":7.21,"r":2.06,"k":-3.1},
      {"x":1541.92,"p":39.59,"w":33.99,"n":28.29,"o":22.09,"m":17.12,"c":12.44,"b":7.71,"r":2.74,"k":-2.51},
      {"x":1542.4,"p":39.59,"w":33.99,"n":28.29,"o":22.09,"m":17.12,"c":12.44,"b":7.71,"r":2.74,"k":-2.51},
      {"x":1542.69,"p":39.29,"w":33.69,"n":27.99,"o":21.82,"m":16.93,"c":12.06,"b":7.29,"r":2.17,"k":-3.0},
      {"x":1542.99,"p":39.63,"w":34.03,"n":28.33,"o":22.13,"m":17.15,"c":12.46,"b":7.75,"r":2.76,"k":-2.49},
      {"x":1543.47,"p":39.63,"w":34.03,"n":28.33,"o":22.13,"m":17.15,"c":12.46,"b":7.75,"r":2.76,"k":-2.49},
      {"x":1543.76,"p":39.36,"w":33.76,"n":28.06,"o":21.9,"m":16.99,"c":12.13,"b":7.36,"r":2.28,"k":-2.93},
      {"x":1544.06,"p":39.67,"w":34.07,"n":28.37,"o":22.17,"m":17.18,"c":12.49,"b":7.78,"r":2.79,"k":-2.46},
      {"x":1544.54,"p":39.67,"w":34.07,"n":28.37,"o":22.17,"m":17.18,"c":12.49,"b":7.78,"r":2.79,"k":-2.46},
      {"x":1544.83,"p":39.44,"w":33.84,"n":28.14,"o":21.99,"m":17.04,"c":12.19,"b":7.44,"r":2.38,"k":-2.86},
      {"x":1545.13,"p":39.71,"w":34.11,"n":28.41,"o":22.21,"m":17.2,"c":12.5,"b":7.8,"r":2.8,"k":-2.45},
      {"x":1545.61,"p":39.71,"w":34.11,"n":28.41,"o":22.21,"m":17.2,"c":12.5,"b":7.8,"r":2.8,"k":-2.45},
      {"x":1545.9,"p":39.55,"w":33.95,"n":28.25,"o":22.05,"m":17.1,"c":12.3,"b":7.55,"r":2.5,"k":-2.75},
      {"x":1546.5,"p":39.74,"w":34.15,"n":28.43,"o":22.23,"m":17.21,"c":12.51,"b":7.81,"r":2.81,"k":-2.44},
      {"x":1548.8,"p":39.81,"w":34.21,"n":28.47,"o":22.27,"m":17.24,"c":12.54,"b":7.84,"r":2.84,"k":-2.42},
      {"x":1549.15,"p":39.5,"w":33.9,"n":28.17,"o":21.97,"m":16.94,"c":12.24,"b":7.54,"r":2.54,"k":-2.72},
      {"x":1549.5,"p":39.83,"w":34.23,"n":28.48,"o":22.28,"m":17.25,"c":12.55,"b":7.85,"r":2.85,"k":-2.41},
      {"x":1552.1,"p":39.92,"w":34.3,"n":28.55,"o":22.35,"m":17.27,"c":12.57,"b":7.87,"r":2.87,"k":-2.38},
      {"x":1552.3,"p":39.0,"w":33.4,"n":27.6,"o":21.4,"m":16.3,"c":11.6,"b":6.9,"r":1.9,"k":-3.4},
      {"x":1552.5,"p":40.05,"w":34.45,"n":28.7,"o":22.5,"m":17.42,"c":12.72,"b":8.02,"r":3.02,"k":-2.23},
      {"x":1558.6,"p":40.15,"w":34.5,"n":28.75,"o":22.55,"m":17.45,"c":12.75,"b":8.05,"r":3.05,"k":-2.2}
    ],
    "leg": [
      {"key":"p","label":"1.41","y":41.8},
      {"key":"w","label":"1.40","y":35.78},
      {"key":"n","label":"1.39","y":30.02},
      {"key":"o","label":"1.38","y":23.82},
      {"key":"m","label":"1.37","y":18.56},
      {"key":"c","label":"1.36","y":13.91},
      {"key":"b","label":"1.35","y":9.1},
      {"key":"r","label":"1.34","y":4.15},
      {"key":"k","label":"1.334","y":-1.24}
    ],
    "spr": [{"x":1529.4,"y":40.15},{"x":1484.4,"y":-3.3}],
    "core": [{"x":1554.0,"y":41.3},{"x":1554.0,"y":-3.7}],
    "heads": [{"x":1484.3,"y":-3.3,"a":"spr"},{"x":1554.0,"y":-4.1,"a":"core"}],
    "notes": [{"t":"SPR","x":1526.1,"y":42.4},{"t":"Core mode","x":1542.6,"y":42.4}]
  },
  "layer": [
    {
      "data": {"name": "spec"},
      "transform": [{"fold": ["p","w","n","o","m","c","b","r","k"], "as": ["key","value"]}],
      "mark": {"type": "line", "strokeWidth": 1.5, "clip": true},
      "encoding": {
        "x": {"field": "x", "type": "quantitative",
          "scale": {"domain": [1460, 1558.625], "nice": false, "zero": false},
          "axis": {"orient": "bottom", "title": "Wavelength(nm)", "values": [1460,1480,1500,1520,1540], "format": "d",
            "tickSize": 9, "labelFont": "Liberation Sans Narrow, Liberation Sans", "labelFontSize": 27, "titleFontSize": 34, "labelPadding": 3, "titlePadding": 4, "labelFlush": false}},
        "y": {"field": "value", "type": "quantitative",
          "scale": {"domain": [-10.3, 45], "nice": false, "zero": false},
          "axis": {"orient": "left", "title": "Offset intensity (dB)", "values": [45,30,15,0], "format": "d",
            "tickSize": 10, "labelFontSize": 30, "titleFontSize": 36, "labelPadding": 3, "titlePadding": 8, "titleY": 308, "labelFlush": false}},
        "color": {"field": "key", "type": "nominal", "legend": null,
          "scale": {"domain": ["p","w","n","o","m","c","b","r","k"],
            "range": ["#FF1493","#800000","#000080","#808000","#FF00FF","#008080","#0000FF","#FF0000","#000000"]}},
        "order": {"field": "x", "type": "quantitative"}
      }
    },
    {
      "data": {"name": "leg"},
      "mark": {"type": "rule", "strokeWidth": 1.6},
      "encoding": {
        "x": {"datum": 1462.2, "type": "quantitative",
          "axis": {"orient": "bottom", "values": [1470,1490,1510,1530,1550], "tickSize": 5, "labels": false, "domain": false, "title": null}},
        "x2": {"datum": 1469.8},
        "y": {"field": "y", "type": "quantitative",
          "axis": {"orient": "left", "values": [37.5,22.5,7.5,-7.5], "tickSize": 6, "labels": false, "domain": false, "title": null}},
        "color": {"field": "key", "type": "nominal", "legend": null}
      }
    },
    {
      "data": {"name": "leg"},
      "mark": {"type": "text", "align": "left", "baseline": "middle", "font": "Liberation Sans", "fontSize": 24, "color": "black"},
      "encoding": {
        "x": {"datum": 1471.0, "type": "quantitative", "axis": null},
        "y": {"field": "y", "type": "quantitative", "axis": null},
        "text": {"field": "label"}
      }
    },
    {
      "data": {"name": "spr"},
      "mark": {"type": "line", "color": "#FF5A5A", "strokeWidth": 1},
      "encoding": {
        "x": {"field": "x", "type": "quantitative", "axis": {"orient": "top", "title": null, "labels": false, "ticks": false, "domain": true, "domainColor": "#777777", "domainWidth": 1}},
        "y": {"field": "y", "type": "quantitative", "axis": null}
      }
    },
    {
      "data": {"name": "core"},
      "mark": {"type": "line", "color": "#FF7A7A", "strokeWidth": 1.2},
      "encoding": {
        "x": {"field": "x", "type": "quantitative", "axis": null},
        "y": {"field": "y", "type": "quantitative", "axis": null}
      }
    },
    {
      "data": {"name": "heads"},
      "transform": [{"filter": "datum.a === 'spr'"}],
      "mark": {"type": "point", "shape": "triangle-up", "angle": 218, "filled": true, "color": "#FF2A2A", "size": 60, "opacity": 1},
      "encoding": {
        "x": {"field": "x", "type": "quantitative", "axis": null},
        "y": {"field": "y", "type": "quantitative", "axis": null}
      }
    },
    {
      "data": {"name": "heads"},
      "transform": [{"filter": "datum.a === 'core'"}],
      "mark": {"type": "point", "shape": "triangle-down", "filled": true, "color": "#FF2A2A", "size": 60, "opacity": 1},
      "encoding": {
        "x": {"field": "x", "type": "quantitative", "axis": null},
        "y": {"field": "y", "type": "quantitative", "axis": null}
      }
    },
    {
      "data": {"name": "notes"},
      "mark": {"type": "text", "align": "left", "baseline": "middle", "font": "Liberation Sans", "fontSize": 24, "fontWeight": "bold", "color": "#FF1A1A"},
      "encoding": {
        "x": {"field": "x", "type": "quantitative", "axis": null},
        "y": {"field": "y", "type": "quantitative", "axis": null},
        "text": {"field": "t"}
      }
    }
  ]
}
